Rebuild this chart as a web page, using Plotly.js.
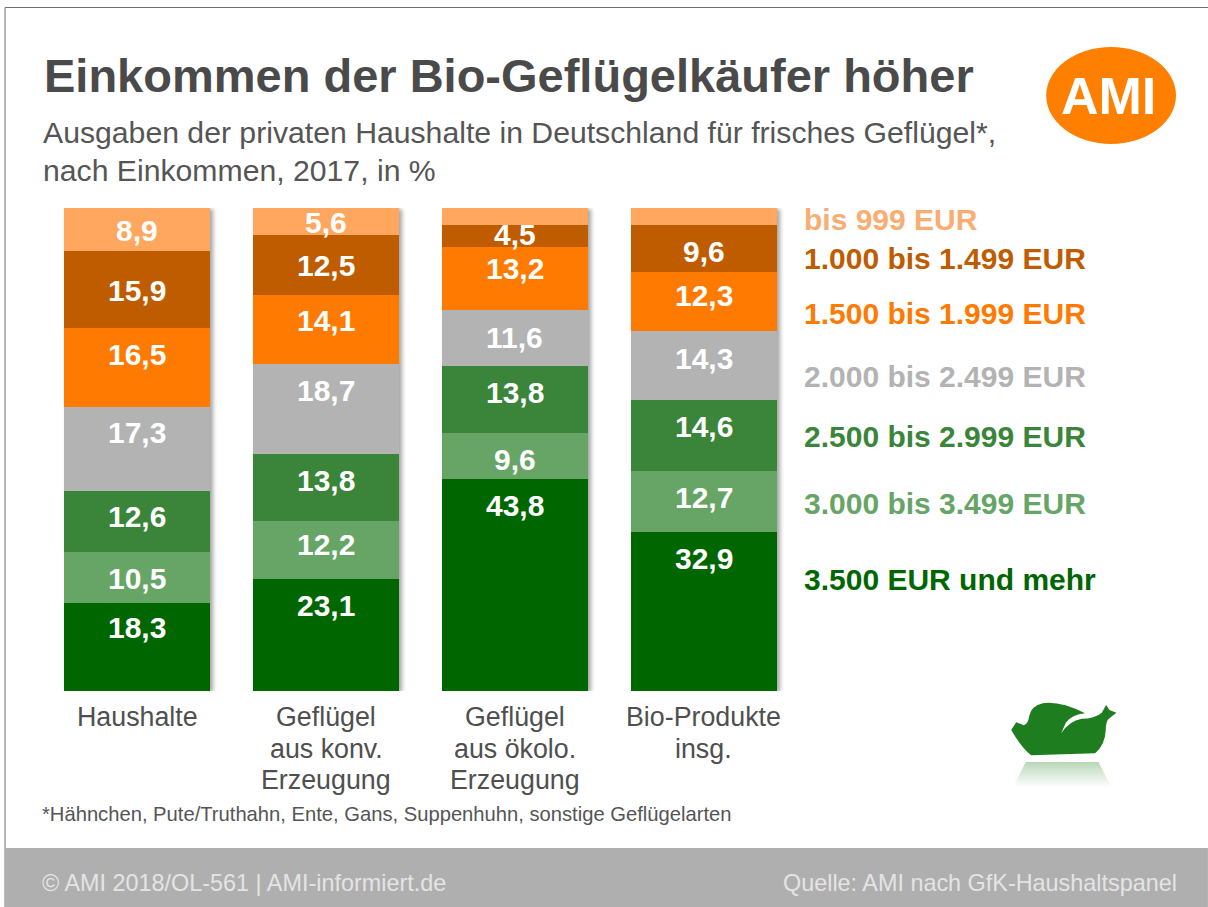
<!DOCTYPE html>
<html><head><meta charset="utf-8">
<script src="https://cdn.plot.ly/plotly-3.0.1.min.js"></script>
<style>
html,body{margin:0;padding:0;background:#fff;overflow:hidden}
#chart{width:1208px;height:907px}
.barlayer{filter:drop-shadow(3px 1px 2px rgba(90,90,90,.55))}
</style></head><body><div id="chart"></div>
<script>
// --- data ---
const categories = ["Haushalte","Geflügel aus konv. Erzeugung","Geflügel aus ökolo. Erzeugung","Bio-Produkte insg."];
const categoryLines = [["Haushalte"],["Geflügel","aus konv.","Erzeugung"],["Geflügel","aus ökolo.","Erzeugung"],["Bio-Produkte","insg."]];
const bandNames = ["3.500 EUR und mehr","3.000 bis 3.499 EUR","2.500 bis 2.999 EUR","2.000 bis 2.499 EUR","1.500 bis 1.999 EUR","1.000 bis 1.499 EUR","bis 999 EUR"];
const v3500 = [18.3,23.1,43.8,32.9];
const v3000 = [10.5,12.2,9.6,12.7];
const v2500 = [12.6,13.8,13.8,14.6];
const v2000 = [17.3,18.7,11.6,14.3];
const v1500 = [16.5,14.1,13.2,12.3];
const v1000 = [15.9,12.5,4.5,9.6];
const v0999 = [8.9,5.6,3.5,3.6];
const bandColors = ["#006600","#66a566","#3a8539","#b3b3b3","#ff7a00","#c05c00","#ffa65f"];
const series = [v3500,v3000,v2500,v2000,v1500,v1000,v0999];

// --- layout helpers (page pixels to plot-paper coordinates) ---
const L=42.5,T=208,W=756,H=483;
const px=x=>(x-L)/W, py=y=>1-(y-T)/H;
const fmt=n=>n.toFixed(1).replace('.',',');
const sans='"Liberation Sans",Arial,sans-serif';
const txt=(text,x,y,size,color,opts={})=>Object.assign({text,xref:'paper',yref:'paper',x:px(x),y:py(y),showarrow:false,
  xanchor:'left',yanchor:'middle',align:'left',font:{family:sans,size,color}},opts);

// vertical nudges of printed values (px), per band, per bar: the original places them off-centre
const nudge=[[-19,-30,-80,-53],[1,-5,3,-4],[-5,-7,-7,-9],[-17,-18,-1,-7],[-13,-9,-10,-6],[1,0,-1,3],[1,1,0,0]];
const legendY=[579,503,436,376,313,258,219];
const axisLineY=[717,749,780];

const traces=series.map((vals,i)=>({type:'bar',name:bandNames[i],x:categories,y:vals,
  marker:{color:bandColors[i],line:{width:0}},hoverinfo:'x+y+name'}));

const annotations=[];
const base=[0,0,0,0];
series.forEach((vals,i)=>{
  vals.forEach((v,j)=>{
    const printed=!(i===6 && j>=2);
    if(printed) annotations.push({xref:'x',yref:'y',x:categories[j],y:base[j]+v/2,yshift:-nudge[i][j],text:'<b>'+fmt(v)+'</b>',showarrow:false,
      font:{family:sans,size:30,color:'#fff'}});
    base[j]+=v;
  });
  annotations.push(txt('<b>'+bandNames[i]+'</b>',802.5,legendY[i],30,i===6?'#f8ae72':bandColors[i]));
});
categoryLines.forEach((lines,j)=>lines.forEach((line,k)=>annotations.push({
  xref:'x',yref:'paper',x:categories[j],y:py(axisLineY[k]),yanchor:'middle',text:line,showarrow:false,
  font:{family:sans,size:26.8,color:'#4f4f4f'}})));
annotations.push(
  txt('<b>Einkommen der Bio-Geflügelkäufer höher</b>',41,76,47,'#4a4a4a'),
  txt('Ausgaben der privaten Haushalte in Deutschland für frisches Geflügel*,',40,132,30.2,'#555'),
  txt('nach Einkommen, 2017, in %',40,170,30.2,'#555'),
  txt('*Hähnchen, Pute/Truthahn, Ente, Gans, Suppenhuhn, sonstige Geflügelarten',39,814,20.2,'#555'),
  txt('© AMI 2018/OL-561 | AMI-informiert.de',39,883,23.4,'#e4e4e4'),
  txt('Quelle: AMI nach GfK-Haushaltspanel',1180,883,23.4,'#e4e4e4',{xanchor:'right',align:'right'}),
  txt('<b>AMI</b>',1109,96,52,'#fff',{xanchor:'center',align:'center'})
);

// chicken outline traced in a 3x crop with origin (982,680)
const cx=x=>px(982+x/3).toFixed(5), cy=y=>py(680+y/3).toFixed(5);
const P=(cmd,...a)=>cmd+a.map((n,i)=>i%2?cy(n):cx(n)).join(',');
const chicken=[
 P('M',90,150),P('L',105,127),P('L',128,136),P('Q',142,130,144,108),P('Q',150,78,185,70),P('Q',235,62,312,100),
 P('Q',272,104,254,128),P('L',240,160),P('Q',264,122,302,116),P('Q',340,116,362,98),P('L',375,75),P('L',385,90),
 P('L',406,98),P('L',385,115),P('Q',374,122,374,150),P('Q',372,195,342,220),P('L',150,226),P('Q',122,205,90,150),'Z'
].join(' ');
const shapes=[
 {type:'line',xref:'paper',yref:'paper',x0:px(4.5),x1:px(1209),y0:py(7.5),y1:py(7.5),line:{color:'#6e6e6e',width:1},layer:'below'},
 {type:'line',xref:'paper',yref:'paper',x0:px(4.5),x1:px(4.5),y0:py(7.5),y1:py(908),line:{color:'#6e6e6e',width:1},layer:'below'},
 {type:'rect',xref:'paper',yref:'paper',x0:px(5),x1:px(1209),y0:py(848),y1:py(908),line:{width:0},fillcolor:'#afafaf',layer:'below'},
 {type:'circle',xref:'paper',yref:'paper',x0:px(1047),x1:px(1177),y0:py(47),y1:py(144),line:{width:0},fillcolor:'#ff8000',layer:'below'},
 {type:'path',xref:'paper',yref:'paper',path:chicken,line:{width:0},fillcolor:'#1e7d1e',layer:'above'}
];
// soft reflection beneath the chicken, fading downward in thin strips
for(let s=0;s<12;s++){
  const top=762+s*2;
  shapes.push({type:'rect',xref:'paper',yref:'paper',x0:px(1026-s),x1:px(1100+s),y0:py(top),y1:py(top+2),line:{width:0},
    fillcolor:'rgba(30,125,30,'+(0.3*(1-s/12)).toFixed(3)+')',layer:'below'});
}

const layout={width:1208,height:907,barmode:'stack',bargap:0.2275,showlegend:false,
  paper_bgcolor:'#fff',plot_bgcolor:'rgba(0,0,0,0)',
  margin:{l:L,t:T,r:1208-L-W,b:907-T-H,pad:0},
  xaxis:{type:'category',categoryorder:'array',categoryarray:categories,range:[-0.5,3.5],showline:false,showgrid:false,zeroline:false,ticks:'',showticklabels:false,fixedrange:true},
  yaxis:{range:[0,100],visible:false,fixedrange:true},
  annotations,shapes};
Plotly.newPlot('chart',traces,layout,{displayModeBar:false,staticPlot:true});
</script></body></html>
